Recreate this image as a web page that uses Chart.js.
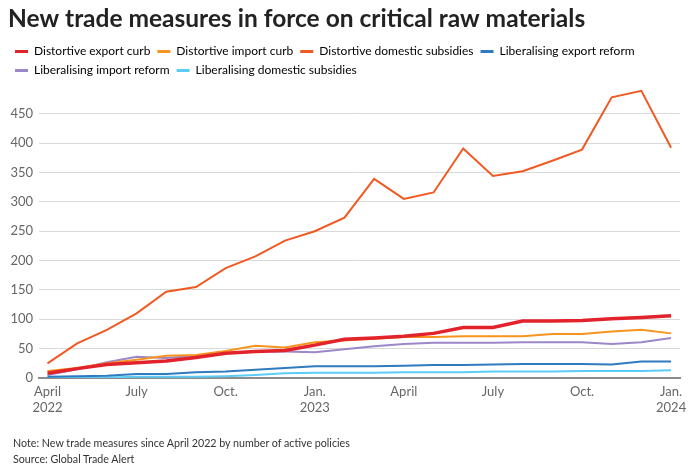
<!DOCTYPE html>
<html>
<head>
<meta charset="utf-8">
<script src="https://cdn.jsdelivr.net/npm/chart.js@4/dist/chart.umd.min.js"></script>
<style>
  html, body { margin: 0; padding: 0; background: #fff; }
  #wrap { position: relative; width: 696px; height: 473px; }
  #notes { position: absolute; left: 13px; top: 435px; font-family: Lato, sans-serif; font-size: 10.7px; color: #333; line-height: 16px; }
</style>
</head>
<body>
<div id="wrap">
  <canvas id="c" width="696" height="473"></canvas>
  <div id="notes">
    <div>Note: New trade measures since April 2022 by number of active policies</div>
    <div>Source: Global Trade Alert</div>
  </div>
</div>
<script>
const months = ['April 2022','May 2022','June 2022','July 2022','Aug. 2022','Sept. 2022','Oct. 2022','Nov. 2022','Dec. 2022',
  'Jan. 2023','Feb. 2023','March 2023','April 2023','May 2023','June 2023','July 2023','Aug. 2023','Sept. 2023','Oct. 2023','Nov. 2023','Dec. 2023','Jan. 2024'];
const tickPositions = [0, 3, 6, 9, 12, 15, 18, 21];
const tickLabels = [['April','2022'], ['July'], ['Oct.'], ['Jan.','2023'], ['April'], ['July'], ['Oct.'], ['Jan.','2024']];
const yTicks = [0, 50, 100, 150, 200, 250, 300, 350, 400, 450];

const distortiveExportCurb = [8, 16, 23, 26, 29, 35, 42, 45, 47, 56, 66, 68, 71, 76, 86, 86, 97, 97, 98, 101, 103, 106];
const distortiveImportCurb = [12, 17, 25, 31, 38, 39, 46, 55, 52, 61, 64, 67, 70, 70, 71, 71, 71, 75, 75, 79, 82, 76];
const distortiveDomesticSubsidies = [25, 59, 82, 110, 147, 155, 187, 207, 234, 250, 273, 339, 305, 316, 391, 344, 352, 370, 389, 478, 489, 392];
const liberalisingExportReform = [2, 3, 4, 7, 7, 10, 11, 14, 17, 20, 20, 20, 21, 22, 22, 23, 24, 24, 24, 23, 28, 28];
const liberalisingImportReform = [5, 15, 27, 36, 34, 38, 42, 45, 45, 44, 49, 54, 58, 60, 60, 60, 61, 61, 61, 58, 61, 68];
const liberalisingDomesticSubsidies = [1, 1, 1, 2, 2, 2, 3, 5, 8, 9, 9, 9, 10, 10, 10, 11, 11, 11, 12, 12, 12, 13];

const seriesNames = ['Distortive export curb','Distortive import curb','Distortive domestic subsidies','Liberalising export reform','Liberalising import reform','Liberalising domestic subsidies'];
const seriesValues = [distortiveExportCurb, distortiveImportCurb, distortiveDomesticSubsidies, liberalisingExportReform, liberalisingImportReform, liberalisingDomesticSubsidies];
const seriesColors = ['#e3232c', '#f7941d', '#f05a22', '#2f7bbf', '#9c87c9', '#5ccbf5'];
const seriesWidths = [3.5, 2, 2, 2, 2, 2];

const datasets = seriesNames.map((name, i) => ({
  label: name,
  data: seriesValues[i].map((v, j) => ({x: j, y: v})),
  borderColor: seriesColors[i],
  backgroundColor: seriesColors[i],
  borderWidth: seriesWidths[i],
  pointRadius: 0,
  tension: 0,
  order: i === 0 ? 0 : i + 1
}));

const FONT = 'Lato, sans-serif';

new Chart(document.getElementById('c'), {
  type: 'line',
  data: { datasets },
  options: {
    responsive: false,
    animation: false,
    layout: { padding: { left: 8, right: 16, top: 0, bottom: 55 } },
    plugins: {
      title: {
        display: true,
        text: 'New trade measures in force on critical raw materials',
        align: 'start',
        color: '#222',
        font: { family: FONT, size: 24.5, weight: 'bold' },
        padding: { top: 4, bottom: 5 }
      },
      legend: {
        display: true,
        align: 'start',
        maxHeight: 46,
        labels: {
          boxWidth: 13,
          boxHeight: 3,
          padding: 7,
          color: '#444',
          font: { family: FONT, size: 12 },
          generateLabels: (chart) => chart.data.datasets.map((d, i) => ({
            text: d.label, fillStyle: d.borderColor, strokeStyle: d.borderColor, lineWidth: 0, datasetIndex: i, hidden: false
          }))
        }
      },
      tooltip: { enabled: false }
    },
    scales: {
      x: {
        type: 'linear',
        min: -0.286,
        max: 21.3,
        afterBuildTicks: (s) => { s.ticks = tickPositions.map(v => ({ value: v })); },
        afterFit: (s) => { s.height = 40; },
        ticks: {
          autoSkip: false,
          maxRotation: 0,
          padding: 6,
          color: '#666',
          font: { family: FONT, size: 13 },
          callback: (v) => { const k = tickPositions.indexOf(v); return k >= 0 ? tickLabels[k] : ''; }
        },
        grid: { display: false, drawTicks: false },
        border: { display: true, color: '#8c8c8c', width: 2 }
      },
      y: {
        min: 0,
        max: 500,
        afterBuildTicks: (s) => { s.ticks = yTicks.map(v => ({ value: v })); },
        afterFit: (s) => { s.width = 31; },
        ticks: {
          padding: 6,
          color: '#666',
          font: { family: FONT, size: 13 }
        },
        grid: {
          drawTicks: false,
          color: (ctx) => ctx.tick && ctx.tick.value === 0 ? 'rgba(0,0,0,0)' : '#d9d9d9',
          lineWidth: 1
        },
        border: { display: false }
      }
    }
  }
});
</script>
</body>
</html>
